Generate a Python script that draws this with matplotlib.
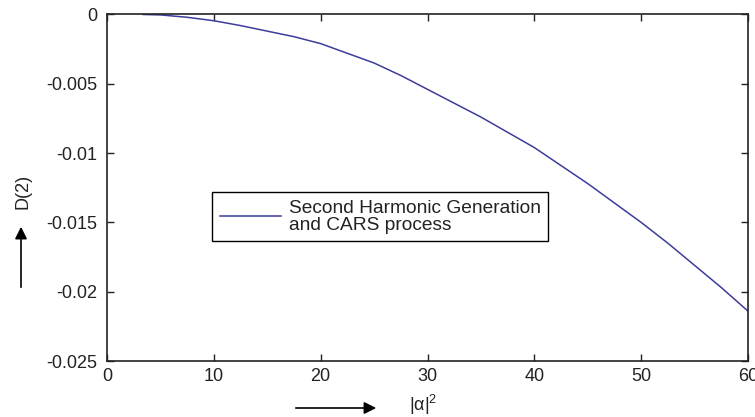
import matplotlib
matplotlib.use("Agg")
import matplotlib.pyplot as plt

plt.rcParams['font.family'] = ['Liberation Sans', 'DejaVu Sans']
plt.rcParams['axes.unicode_minus'] = False
plt.rcParams['mathtext.fontset'] = 'custom'
plt.rcParams['mathtext.rm'] = 'Liberation Sans'

# data
x_vals = [3.4, 5, 7.5, 10, 12.5, 15, 17.5, 20, 22.5, 25, 27.5, 30, 32.5, 35,
          37.5, 40, 42.5, 45, 47.5, 50, 52.5, 55, 57.5, 60]
d2_vals = [0.0, -0.00003, -0.0002, -0.00045, -0.0008, -0.0012, -0.0016, -0.0021,
           -0.0028, -0.0035, -0.0044, -0.0054, -0.0064, -0.0074, -0.0085, -0.0096,
           -0.0109, -0.0122, -0.0136, -0.0150, -0.0165, -0.0181, -0.0197, -0.0214]
x_ticks = [0, 10, 20, 30, 40, 50, 60]
y_ticks = [0, -0.005, -0.01, -0.015, -0.02, -0.025]
y_tick_labels = ['0', '-0.005', '-0.01', '-0.015', '-0.02', '-0.025']
legend_label = "Second Harmonic Generation\nand CARS process"

W, H = 755, 417
fig = plt.figure(figsize=(W / 100, H / 100), dpi=100)
ax = fig.add_axes([107 / W, 1 - 361 / H, (748 - 107) / W, (361 - 14.5) / H])

ax.plot(x_vals, d2_vals, color='#3c3c9c', lw=1.1, label=legend_label)
ax.set_xlim(0, 60)
ax.set_ylim(-0.025, 0)
ax.set_xticks(x_ticks)
ax.set_yticks(y_ticks)
ax.set_yticklabels(y_tick_labels)
ax.tick_params(direction='in', top=True, right=True, length=5, width=1,
               labelsize=13, colors='#222222')
ax.tick_params(axis='y', pad=7)
ax.tick_params(axis='x', pad=5)
for s in ax.spines.values():
    s.set_linewidth(1.2)
    s.set_color('#222222')

leg = ax.legend(loc='upper left', bbox_to_anchor=(0.164, 0.488), borderaxespad=0,
                fancybox=False, edgecolor='black', framealpha=1, fontsize=13.8,
                handlelength=3.2, handletextpad=0.4, borderpad=0.4)
leg.get_frame().set_linewidth(1.0)
for t in leg.get_texts():
    t.set_linespacing(1.0)
    t.set_color('#222222')

# axis labels and arrows
fig.text(23 / W, 1 - 191 / H, 'D(2)', rotation=90, ha='center', va='center',
         fontsize=13, color='#222222')
fig.text(409 / W, 1 - 405 / H, '|α|$^{2}$', ha='left', va='center',
         fontsize=13, color='#222222')
ax.annotate('', xy=(379, H - 408), xytext=(293, H - 408), xycoords='figure pixels',
            textcoords='figure pixels',
            arrowprops=dict(arrowstyle='-|>', color='black', lw=1.2, mutation_scale=18))
ax.annotate('', xy=(21, H - 224), xytext=(21, H - 290), xycoords='figure pixels',
            textcoords='figure pixels',
            arrowprops=dict(arrowstyle='-|>', color='black', lw=1.2, mutation_scale=18))

fig.savefig('out.png', dpi=100)
